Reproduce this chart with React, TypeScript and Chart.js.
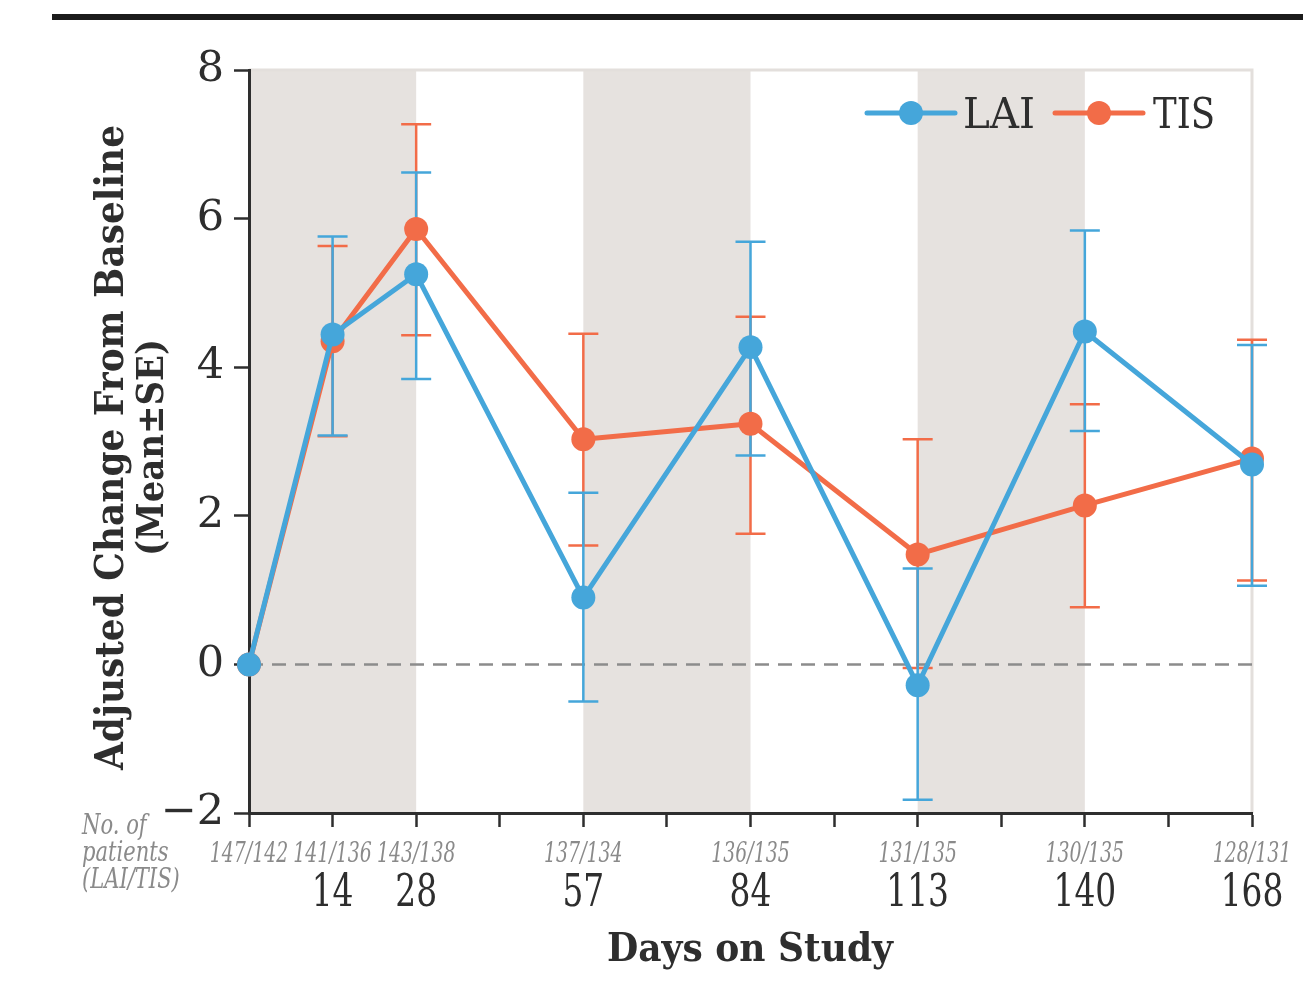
import React, { useEffect, useRef } from 'react';
import { Chart, registerables } from 'chart.js';

Chart.register(...registerables);

// ---- Data ----
const visitWeeks = [0, 2, 4, 8, 12, 16, 20, 24];
const dayLabels = ['', '14', '28', '57', '84', '113', '140', '168'];
const patientCounts = ['147/142', '141/136', '143/138', '137/134', '136/135', '131/135', '130/135', '128/131'];

const laiMean = [0, 4.44, 5.25, 0.9, 4.27, -0.28, 4.48, 2.69];
const laiUpper = [null, 5.76, 6.62, 2.31, 5.69, 1.29, 5.84, 4.3];
const laiLower = [null, 3.08, 3.84, -0.5, 2.81, -1.82, 3.14, 1.06];

const tisMean = [0, 4.35, 5.86, 3.03, 3.24, 1.48, 2.14, 2.77];
const tisUpper = [null, 5.63, 7.27, 4.45, 4.68, 3.03, 3.5, 4.37];
const tisLower = [null, 3.07, 4.43, 1.6, 1.76, -0.05, 0.77, 1.13];

const shadedBands: number[][] = [[0, 4], [8, 12], [16, 20]];
const yMin = -2;
const yMax = 8;
const yStep = 2;
const weekMax = 24;
const weekStep = 2;

const BLUE = '#45a6da';
const ORANGE = '#f26c48';
const BAND = '#e6e2df';
const INK = '#2e2e2e';
const GRAY_TEXT = '#8a8a8a';
const SERIF = '"DejaVu Serif", "Liberation Serif", serif';

function drawText(ctx: CanvasRenderingContext2D, text: string, x: number, y: number, o: any) {
  ctx.save();
  ctx.font = o.font;
  ctx.fillStyle = o.color;
  ctx.textAlign = o.align || 'center';
  ctx.textBaseline = o.baseline || 'alphabetic';
  ctx.translate(x, y);
  if (o.rotate) ctx.rotate(o.rotate);
  let sx = o.scaleX || 1;
  if (o.fitWidth) sx = o.fitWidth / ctx.measureText(text).width;
  ctx.scale(sx, 1);
  ctx.fillText(text, 0, 0);
  ctx.restore();
}

const decorPlugin = {
  id: 'decor',
  beforeDraw(chart: any) {
    const { ctx, chartArea: a, scales } = chart;
    const xs = scales.x;
    ctx.save();
    ctx.fillStyle = '#ffffff';
    ctx.fillRect(0, 0, chart.width, chart.height);
    ctx.fillStyle = BAND;
    shadedBands.forEach(([s, e]) => {
      const x1 = xs.getPixelForValue(s);
      const x2 = xs.getPixelForValue(e);
      ctx.fillRect(x1, a.top, x2 - x1, a.bottom - a.top);
    });
    ctx.strokeStyle = '#e3dfdc';
    ctx.lineWidth = 3;
    ctx.beginPath();
    ctx.moveTo(a.left, a.top);
    ctx.lineTo(a.right, a.top);
    ctx.lineTo(a.right, a.bottom);
    ctx.stroke();
    // heavy rule at top of the page
    ctx.fillStyle = '#1b1b1b';
    ctx.fillRect(52, 14, chart.width - 52, 6);
    ctx.restore();
  },
  beforeDatasetsDraw(chart: any) {
    const { ctx, chartArea: a, scales } = chart;
    const xs = scales.x;
    const ys = scales.y;
    ctx.save();
    // zero reference line
    const y0 = ys.getPixelForValue(0);
    ctx.strokeStyle = '#8c8c8c';
    ctx.lineWidth = 2.5;
    ctx.setLineDash([14, 9]);
    ctx.beginPath();
    ctx.moveTo(a.left, y0);
    ctx.lineTo(a.right, y0);
    ctx.stroke();
    ctx.setLineDash([]);
    const drawErr = (upper: (number | null)[], lower: (number | null)[], color: string) => {
      ctx.strokeStyle = color;
      ctx.lineWidth = 2.5;
      visitWeeks.forEach((w, i) => {
        const u = upper[i];
        const l = lower[i];
        if (u == null || l == null) return;
        const x = xs.getPixelForValue(w);
        const yt = ys.getPixelForValue(u);
        const yb = ys.getPixelForValue(l);
        ctx.beginPath();
        ctx.moveTo(x, yt);
        ctx.lineTo(x, yb);
        ctx.moveTo(x - 15, yt);
        ctx.lineTo(x + 15, yt);
        ctx.moveTo(x - 15, yb);
        ctx.lineTo(x + 15, yb);
        ctx.stroke();
      });
    };
    drawErr(tisUpper, tisLower, ORANGE);
    drawErr(laiUpper, laiLower, BLUE);
    ctx.restore();
  },
  afterDraw(chart: any) {
    const { ctx, chartArea: a, scales } = chart;
    const xs = scales.x;
    // patient counts and day labels
    visitWeeks.forEach((w, i) => {
      const x = xs.getPixelForValue(w);
      drawText(ctx, patientCounts[i], x, 862, {
        font: `italic 27px ${SERIF}`, color: GRAY_TEXT, scaleX: 0.7,
      });
      if (dayLabels[i]) {
        drawText(ctx, dayLabels[i], x, 906, {
          font: `45px ${SERIF}`, color: INK, scaleX: 0.73,
        });
      }
    });
    ['No. of', 'patients', '(LAI/TIS)'].forEach((t, i) => {
      drawText(ctx, t, 82, 834 + i * 27, {
        font: `italic 27px ${SERIF}`, color: GRAY_TEXT, align: 'left', scaleX: 0.78,
      });
    });
    // axis titles
    const midY = (a.top + a.bottom) / 2 + 6;
    drawText(ctx, 'Adjusted Change From Baseline', 113, midY, {
      font: `bold 40px ${SERIF}`, color: INK, rotate: -Math.PI / 2, baseline: 'middle', fitWidth: 645,
    });
    drawText(ctx, '(Mean\u00B1SE)', 153, midY, {
      font: `bold 38px ${SERIF}`, color: INK, rotate: -Math.PI / 2, baseline: 'middle', fitWidth: 217,
    });
    drawText(ctx, 'Days on Study', 750, 961, {
      font: `bold 40px ${SERIF}`, color: INK, fitWidth: 286,
    });
    // legend
    const legend = [
      { label: 'LAI', color: BLUE, x0: 867, x1: 955, tx: 963, w: 72 },
      { label: 'TIS', color: ORANGE, x0: 1055, x1: 1143, tx: 1153, w: 62 },
    ];
    const ly = 113;
    legend.forEach((l) => {
      ctx.save();
      ctx.strokeStyle = l.color;
      ctx.lineWidth = 5;
      ctx.lineCap = 'round';
      ctx.beginPath();
      ctx.moveTo(l.x0, ly);
      ctx.lineTo(l.x1, ly);
      ctx.stroke();
      ctx.fillStyle = l.color;
      ctx.beginPath();
      ctx.arc((l.x0 + l.x1) / 2, ly, 12, 0, Math.PI * 2);
      ctx.fill();
      ctx.restore();
      drawText(ctx, l.label, l.tx, 128, {
        font: `42px ${SERIF}`, color: INK, align: 'left', fitWidth: l.w,
      });
    });
  },
};

export default function App() {
  const ref = useRef<HTMLCanvasElement | null>(null);
  useEffect(() => {
    const canvas = ref.current;
    if (!canvas) return;
    const mk = (mean: number[], color: string, label: string) => ({
      label,
      data: visitWeeks.map((w, i) => ({ x: w, y: mean[i] })),
      borderColor: color,
      backgroundColor: color,
      pointBackgroundColor: color,
      pointBorderColor: color,
      borderWidth: 5,
      borderJoinStyle: 'round',
      pointRadius: 12,
      pointBorderWidth: 0,
      tension: 0,
      clip: false,
    });
    const chart = new Chart(canvas, {
      type: 'line',
      data: {
        datasets: [mk(laiMean, BLUE, 'LAI'), mk(tisMean, ORANGE, 'TIS')] as any,
      },
      options: {
        responsive: false,
        animation: false,
        events: [],
        layout: { padding: { left: 0, right: 51, top: 70, bottom: 0 } },
        plugins: {
          legend: { display: false },
          tooltip: { enabled: false },
          title: { display: false },
        },
        scales: {
          x: {
            type: 'linear',
            min: 0,
            max: weekMax,
            afterFit: (s: any) => { s.height = 179; },
            ticks: { display: false, stepSize: weekStep },
            grid: {
              drawOnChartArea: false, drawTicks: true, tickLength: 14,
              tickColor: INK, tickWidth: 2.5, color: INK,
            },
            border: { display: true, color: INK, width: 3 },
          },
          y: {
            type: 'linear',
            min: yMin,
            max: yMax,
            afterFit: (s: any) => { s.width = 249; },
            ticks: {
              stepSize: yStep,
              color: INK,
              padding: 10,
              font: { family: SERIF, size: 43 },
              callback: (v: any) => (v < 0 ? '\u2212' + Math.abs(v) : String(v)),
            },
            grid: {
              drawOnChartArea: false, drawTicks: true, tickLength: 15,
              tickColor: INK, tickWidth: 2.5, color: INK,
            },
            border: { display: true, color: INK, width: 3 },
          },
        },
      } as any,
      plugins: [decorPlugin],
    });
    return () => chart.destroy();
  }, []);
  return (
    <div style={{ position: 'fixed', left: 0, top: 0, width: 1303, height: 992, background: '#fff' }}>
      <canvas ref={ref} width={1303} height={992} style={{ display: 'block' }} />
    </div>
  );
}
